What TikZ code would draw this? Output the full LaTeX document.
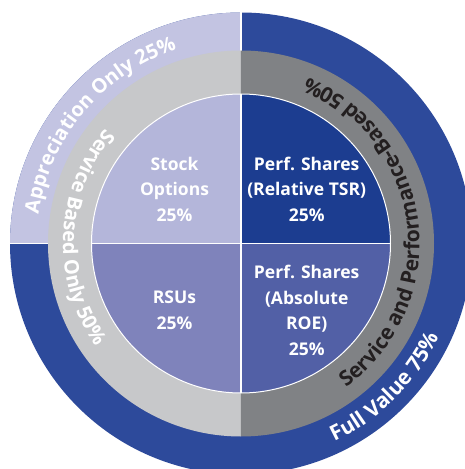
\documentclass[tikz,border=0pt]{standalone}
\usepackage{fontspec}
\setmainfont{Open Sans}
\usetikzlibrary{decorations.text}
\definecolor{outerlav}{HTML}{C3C4E2}
\definecolor{outerblue}{HTML}{2D4A9B}
\definecolor{ringlight}{HTML}{C7C8CA}
\definecolor{ringdark}{HTML}{808285}
\definecolor{qtl}{HTML}{B4B6DA}
\definecolor{qtr}{HTML}{1C3D90}
\definecolor{qbl}{HTML}{7F83BB}
\definecolor{qbr}{HTML}{5260A6}
\definecolor{textdark}{HTML}{231F20}
\newcommand{\curvefont}{\bfseries\fontsize{20}{22}\selectfont}
\newcommand{\curvefontb}{\bfseries\fontsize{21}{23}\selectfont}
\tikzset{
  quadlabel/.style={text=white, align=center, font=\bfseries\fontsize{17.5}{25.5}\selectfont},
  divider/.style={white, line width=1.2pt}
}
\begin{document}
\begin{tikzpicture}[x=1pt,y=1pt]
\useasboundingbox (-241,-225.5) rectangle (224,243.5);
\clip (-241,-225.5) rectangle (224,243.5);
% outer ring
\fill[outerblue] (0,0) circle (231pt);
\fill[outerlav] (0,0) -- (90:231pt) arc (90:180:231pt) -- cycle;
\draw[divider] (90:190pt) -- (90:232pt);
\draw[divider] (180:190pt) -- (180:232pt);
% middle ring
\fill[ringlight] (0,0) -- (90:193pt) arc (90:270:193pt) -- cycle;
\fill[ringdark] (0,0) -- (-90:193pt) arc (-90:90:193pt) -- cycle;
% inner quadrants
\fill[qtr] (0,0) -- (0:149.5pt) arc (0:90:149.5pt) -- cycle;
\fill[qtl] (0,0) -- (90:149.5pt) arc (90:180:149.5pt) -- cycle;
\fill[qbl] (0,0) -- (180:149.5pt) arc (180:270:149.5pt) -- cycle;
\fill[qbr] (0,0) -- (270:149.5pt) arc (270:360:149.5pt) -- cycle;
\draw[white, line width=1pt] (0,0) circle (149.5pt);
\draw[divider] (90:149.5pt) -- (270:149.5pt);
\draw[divider] (180:149.5pt) -- (0:149.5pt);
% inner labels
\node[quadlabel] (so) at (-66.5,54.5) {Stock\\Options\\25\%};
\node[quadlabel] (tsr) at (65.7,54.5) {Perf. Shares\\(Relative TSR)\\25\%};
\node[quadlabel] (rsu) at (-66.5,-66.7) {RSUs\\25\%};
\node[quadlabel] (roe) at (65.7,-66.8) {Perf. Shares\\(Absolute\\ROE)\\25\%};
% curved labels
\path[decorate, decoration={text along path, text align=center,
  text={|\color{white}\curvefont|Appreciation Only 25{\%}}}]
  (185:204.5pt) arc (185:95:204.5pt);
\path[decorate, decoration={text along path, text align=center,
  text={|\color{white}\curvefontb|Full Value 75{\%}}}]
  (-75:219pt) arc (-75:-15:219pt);
\path[decorate, decoration={text along path, text align=center,
  text={|\color{white}\curvefont|Service Based Only 50{\%}}}]
  (125:178pt) arc (125:230:178pt);
\path[decorate, decoration={text along path, text align=center,
  text={|\color{textdark}\curvefontb|Service and Performance-Based 50{\%}}}]
  (-72:178.5pt) arc (-72:86:178.5pt);
\end{tikzpicture}
\end{document}
